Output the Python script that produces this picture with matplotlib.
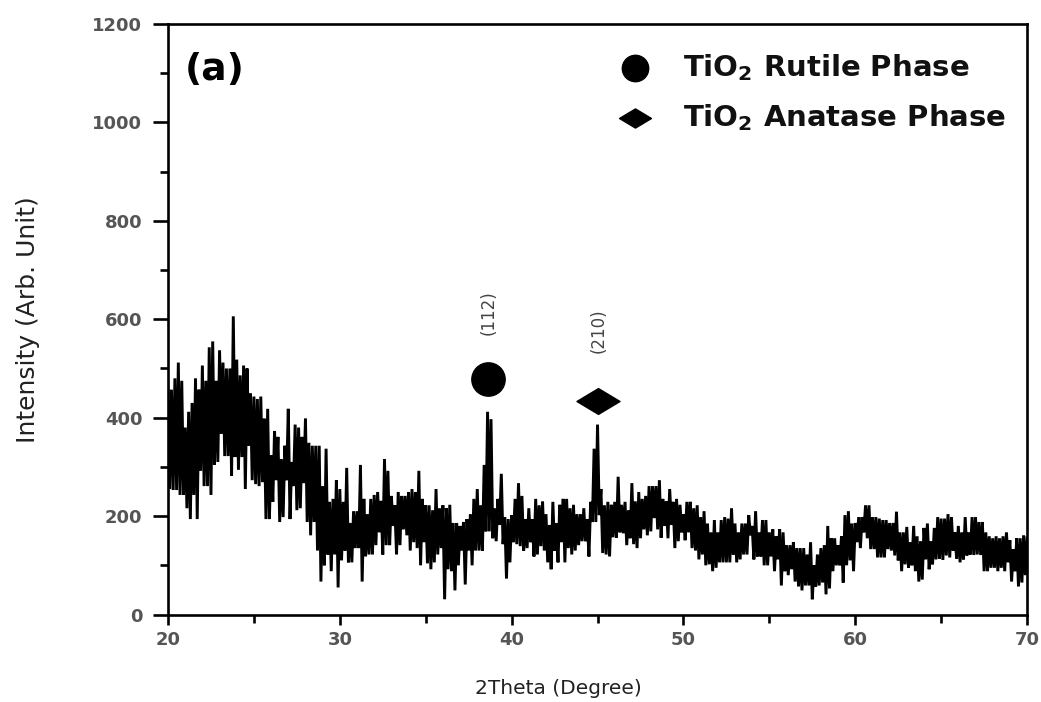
import numpy as np
import matplotlib
matplotlib.use("Agg")
import matplotlib.pyplot as plt
from matplotlib.path import Path

# ---------------- data ----------------
two_theta_start = 20.0
two_theta_step = 0.2

# upper envelope of the noisy pattern, every 0.2 deg from 20.0 to 70.0
intensity_high = [
    457, 457, 480, 512, 475, 380, 412, 430, 480, 457,
    506, 475, 543, 555, 475, 537, 512, 500, 500, 606,
    518, 486, 506, 500, 449, 443, 438, 443, 398, 418,
    324, 373, 361, 316, 343, 418, 310, 386, 380, 361,
    398, 349, 343, 343, 343, 261, 337, 229, 235, 273,
    255, 229, 298, 186, 210, 210, 304, 235, 204, 235,
    243, 249, 231, 316, 292, 241, 222, 249, 241, 241,
    249, 255, 249, 292, 235, 222, 222, 212, 255, 216,
    222, 216, 223, 186, 186, 180, 188, 194, 204, 235,
    255, 222, 304, 412, 397, 216, 235, 286, 198, 194,
    202, 235, 267, 241, 194, 216, 194, 235, 222, 230,
    204, 182, 229, 185, 223, 235, 235, 216, 223, 204,
    204, 216, 194, 229, 337, 386, 255, 222, 229, 223,
    229, 280, 223, 229, 212, 267, 230, 249, 235, 241,
    261, 261, 261, 273, 235, 230, 255, 229, 235, 223,
    204, 229, 229, 216, 222, 198, 210, 185, 167, 192,
    167, 192, 198, 195, 216, 185, 167, 185, 185, 202,
    180, 210, 167, 192, 192, 167, 173, 159, 173, 167,
    141, 141, 147, 135, 135, 135, 122, 147, 100, 122,
    135, 141, 180, 155, 155, 141, 159, 202, 210, 185,
    186, 198, 198, 222, 222, 198, 198, 195, 192, 192,
    186, 186, 209, 167, 167, 178, 147, 180, 159, 149,
    176, 185, 149, 176, 198, 195, 195, 204, 198, 167,
    180, 167, 198, 167, 198, 198, 188, 188, 167, 159,
    155, 159, 155, 159, 167, 151, 133, 155, 155, 161, 156,
]

# lower envelope, every 0.2 deg from 20.1 to 69.9
intensity_low = [
    255, 253, 253, 243, 243, 216, 194, 243, 194, 292,
    261, 261, 243, 304, 310, 367, 322, 322, 282, 320,
    294, 320, 255, 343, 273, 265, 261, 269, 194, 194,
    229, 273, 188, 198, 273, 194, 261, 212, 216, 267,
    188, 161, 188, 130, 67, 100, 122, 88, 122, 55,
    110, 130, 106, 106, 135, 135, 67, 118, 122, 122,
    141, 167, 122, 141, 141, 180, 122, 141, 173, 161,
    130, 147, 135, 100, 147, 104, 92, 106, 122, 135,
    31, 92, 88, 49, 100, 130, 61, 130, 100, 130,
    130, 130, 169, 169, 155, 149, 182, 143, 73, 106,
    147, 143, 139, 130, 135, 147, 118, 122, 139, 130,
    106, 92, 130, 106, 147, 106, 135, 122, 130, 141,
    149, 149, 118, 188, 188, 202, 125, 122, 118, 157,
    156, 167, 165, 141, 155, 143, 135, 155, 173, 161,
    169, 196, 173, 156, 180, 155, 182, 135, 149, 167,
    151, 167, 135, 130, 112, 122, 100, 102, 88, 95,
    106, 106, 106, 106, 122, 106, 112, 122, 122, 161,
    112, 118, 118, 100, 100, 118, 88, 112, 59, 88,
    80, 92, 67, 57, 49, 59, 59, 31, 57, 59,
    65, 41, 53, 88, 100, 100, 65, 100, 110, 88,
    147, 135, 167, 155, 133, 133, 116, 116, 116, 133,
    130, 120, 110, 88, 102, 95, 100, 88, 67, 71,
    112, 92, 102, 112, 113, 111, 120, 116, 130, 113,
    106, 112, 120, 122, 121, 122, 121, 88, 88, 95,
    95, 88, 95, 88, 106, 67, 88, 57, 65, 80,
]

phase_labels = [r"TiO$_\mathbf{2}$ Rutile Phase", r"TiO$_\mathbf{2}$ Anatase Phase"]
peak_hkl = ["(112)", "(210)"]
peak_2theta = [38.65, 45.05]
peak_marker_y = [478, 433]
peak_label_y = [614, 576]

x_ticks = [20, 30, 40, 50, 60, 70]
y_ticks = [0, 200, 400, 600, 800, 1000, 1200]

# ---------------- build the zig-zag trace ----------------
n_hi = len(intensity_high)
x_hi = two_theta_start + two_theta_step * np.arange(n_hi)
x_lo = x_hi[:-1] + two_theta_step / 2
xs = np.empty(n_hi + len(intensity_low))
ys = np.empty_like(xs)
xs[0::2] = x_hi
ys[0::2] = intensity_high
xs[1::2] = x_lo
ys[1::2] = intensity_low

# ---------------- figure ----------------
fig = plt.figure(figsize=(10.41, 7.02), dpi=100)
ax = fig.add_axes([0.1614, 0.1246, 0.8252, 0.8412])

ax.plot(xs, ys, color="black", lw=2.1, solid_joinstyle="miter")

ax.set_xlim(20, 70)
ax.set_ylim(0, 1200)

for s in ax.spines.values():
    s.set_linewidth(1.9)

ax.set_xticks(x_ticks)
ax.set_xticks([25, 35, 45, 55, 65], minor=True)
ax.set_yticks(y_ticks)
ax.set_yticks([100, 300, 500, 700, 900, 1100], minor=True)
ax.tick_params(axis="y", which="major", direction="out", length=10.5, width=1.9,
               pad=8, labelsize=13, labelcolor="#555555")
ax.tick_params(axis="y", which="minor", direction="out", length=5.5, width=1.9)
ax.tick_params(axis="x", which="major", direction="out", length=7, width=1.9,
               pad=5, labelsize=13, labelcolor="#555555")
ax.tick_params(axis="x", which="minor", direction="out", length=5.5, width=1.9)
for lab in ax.get_xticklabels() + ax.get_yticklabels():
    lab.set_fontweight("bold")

ax.set_xlabel("2Theta (Degree)", fontsize=14.5, color="#222222", va="center")
ax.xaxis.set_label_coords(0.454, -0.1245)
ax.set_ylabel("Intensity (Arb. Unit)", fontsize=18, color="#222222",
              va="center", ha="center")
ax.yaxis.set_label_coords(-0.163, 0.5)

# panel label
ax.text(21.0, 1107, "(a)", fontsize=27, fontweight="bold", ha="left", va="center")

# diamond marker (wider than tall)
diamond = Path([(-1, 0), (0, 0.6), (1, 0), (0, -0.6), (-1, 0)],
               [Path.MOVETO, Path.LINETO, Path.LINETO, Path.LINETO, Path.CLOSEPOLY])

# peak markers
ax.plot([peak_2theta[0]], [peak_marker_y[0]], marker="o", ms=24, color="black",
        ls="none")
ax.plot([peak_2theta[1]], [peak_marker_y[1]], marker=diamond, ms=31, color="black",
        ls="none")
for xp, yp, t in zip(peak_2theta, peak_label_y, peak_hkl):
    ax.text(xp, yp, t, rotation=90, fontsize=12, color="#444444",
            ha="center", va="center")

# legend drawn by hand
ax.plot([0.5437], [0.9263], marker="o", ms=19, color="black", ls="none",
        transform=ax.transAxes, clip_on=False)
ax.plot([0.5437], [0.8408], marker=diamond, ms=23, color="black", ls="none",
        transform=ax.transAxes, clip_on=False)
ax.text(0.5990, 0.9263, phase_labels[0], transform=ax.transAxes, fontsize=21,
        fontweight="bold", ha="left", va="center", color="#111111")
ax.text(0.5990, 0.8408, phase_labels[1], transform=ax.transAxes, fontsize=21,
        fontweight="bold", ha="left", va="center", color="#111111")

fig.savefig("out.png", dpi=100)
